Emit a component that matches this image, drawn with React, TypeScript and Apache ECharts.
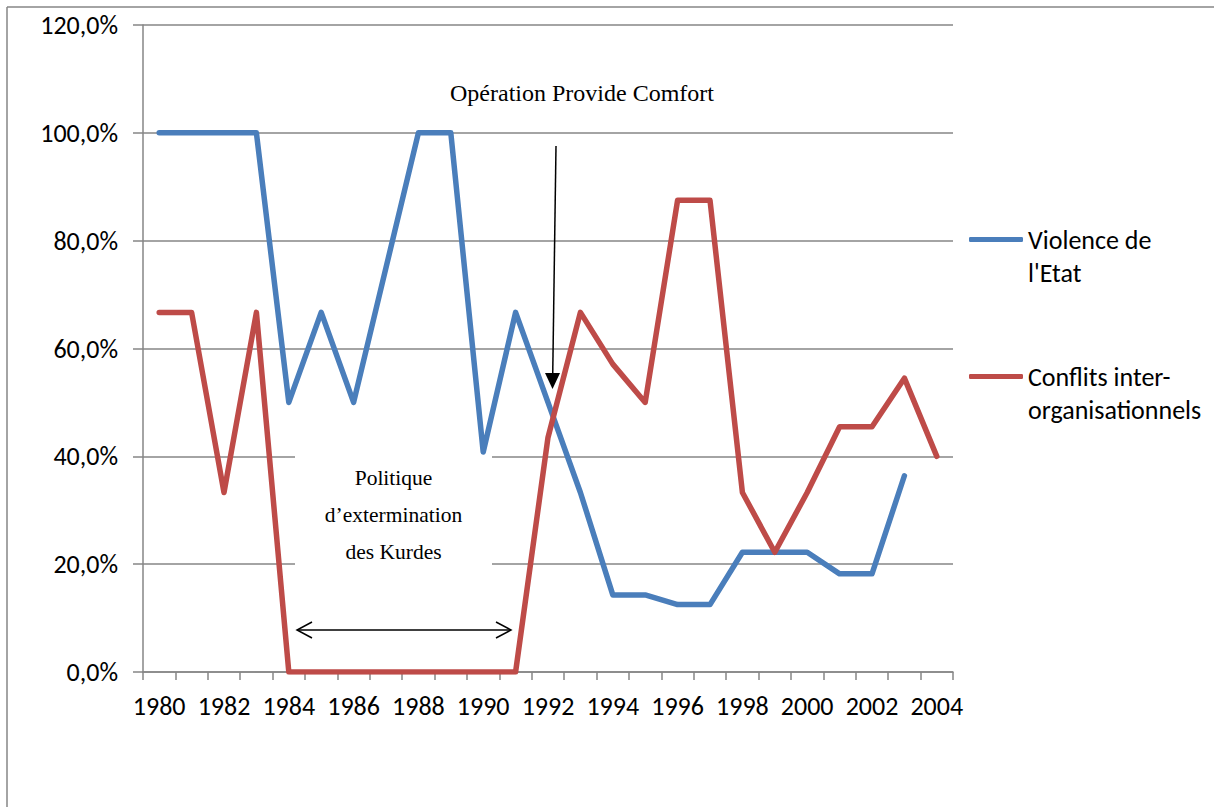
import React, { useEffect, useRef } from "react";
import * as echarts from "echarts";

const years = [
  "1980", "1981", "1982", "1983", "1984", "1985", "1986", "1987", "1988", "1989",
  "1990", "1991", "1992", "1993", "1994", "1995", "1996", "1997", "1998", "1999",
  "2000", "2001", "2002", "2003", "2004",
];
const violenceEtat = [
  100, 100, 100, 100, 50, 66.7, 50, 75, 100, 100,
  40.8, 66.7, 50, 33.3, 14.3, 14.3, 12.5, 12.5, 22.2, 22.2,
  22.2, 18.2, 18.2, 36.4, null,
];
const conflitsInter = [
  66.7, 66.7, 33.3, 66.7, 0, 0, 0, 0, 0, 0,
  0, 0, 43.5, 66.7, 57.1, 50, 87.5, 87.5, 33.3, 22.2,
  33.3, 45.5, 45.5, 54.5, 40,
];
const seriesNames = ["Violence de l'Etat", "Conflits inter-organisationnels"];
const legendLabels = ["Violence de\nl'Etat", "Conflits inter-\norganisationnels"];
const annotationTop = "Opération Provide Comfort";
const annotationBox = "Politique\nd\u2019extermination\ndes Kurdes";

const SANS = "Carlito, Lato, 'Noto Sans', sans-serif";
const SERIF = "'Liberation Serif', 'DejaVu Serif', serif";
const GRAY = "#868686";

export default function App() {
  const ref = useRef<HTMLDivElement>(null);
  useEffect(() => {
    if (!ref.current) return;
    const chart = echarts.init(ref.current, undefined, { renderer: "svg" });
    chart.setOption({
      animation: false,
      backgroundColor: "#ffffff",
      grid: { left: 143, top: 25, width: 810, height: 647, containLabel: false },
      legend: {
        orient: "vertical",
        left: 969,
        top: 190,
        padding: 0,
        itemWidth: 54,
        itemHeight: 5,
        itemGap: 38,
        icon: "roundRect",
        data: seriesNames,
        formatter: (name: string) => "\n" + legendLabels[seriesNames.indexOf(name)],
        textStyle: { fontFamily: SANS, fontSize: 26, lineHeight: 33, color: "#000" },
        selectedMode: false,
      },
      xAxis: {
        type: "category",
        data: years,
        boundaryGap: true,
        axisLine: { show: true, lineStyle: { color: GRAY, width: 1.5 } },
        axisTick: { show: true, interval: 0, length: 8, lineStyle: { color: GRAY, width: 1.5 } },
        axisLabel: { interval: 1, margin: 21, color: "#000", fontFamily: SANS, fontSize: 26 },
        splitLine: { show: false },
      },
      yAxis: {
        type: "value",
        min: 0,
        max: 120,
        interval: 20,
        axisLine: { show: true, lineStyle: { color: GRAY, width: 1.5 } },
        axisTick: { show: true, length: 10, lineStyle: { color: GRAY, width: 1.5 } },
        axisLabel: {
          margin: 25,
          color: "#000",
          fontFamily: SANS,
          fontSize: 26,
          formatter: (v: number) => v.toFixed(1).replace(".", ",") + "%",
        },
        splitLine: { show: true, lineStyle: { color: GRAY, width: 1.5 } },
      },
      series: [
        {
          name: seriesNames[0],
          type: "line",
          data: violenceEtat,
          symbol: "none",
          connectNulls: false,
          color: "#4A7EBB",
          lineStyle: { width: 5.5, color: "#4A7EBB", cap: "round", join: "round" },
          z: 3,
        },
        {
          name: seriesNames[1],
          type: "line",
          data: conflitsInter,
          symbol: "none",
          color: "#BE4B48",
          lineStyle: { width: 5.5, color: "#BE4B48", cap: "round", join: "round" },
          z: 4,
        },
      ],
      graphic: [
        { type: "line", z: 1, shape: { x1: 7, y1: 7, x2: 1214, y2: 7 }, style: { stroke: GRAY, lineWidth: 1.5 } },
        { type: "line", z: 1, shape: { x1: 7, y1: 7, x2: 7, y2: 807 }, style: { stroke: GRAY, lineWidth: 1.5 } },
        { type: "rect", z: 1, shape: { x: 295, y: 454, width: 197, height: 146 }, style: { fill: "#ffffff" } },
        {
          type: "text", z: 10, x: 393.5, y: 515,
          style: {
            text: annotationBox, font: `21.5px ${SERIF}`, fill: "#000",
            align: "center", verticalAlign: "middle", lineHeight: 37,
          },
        },
        {
          type: "text", z: 10, x: 582, y: 93,
          style: { text: annotationTop, font: `24px ${SERIF}`, fill: "#000", align: "center", verticalAlign: "middle" },
        },
        { type: "line", z: 10, shape: { x1: 556, y1: 146, x2: 552.7, y2: 376 }, style: { stroke: "#000", lineWidth: 1.5 } },
        { type: "polygon", z: 10, shape: { points: [[545, 373], [560, 373], [552.5, 389]] }, style: { fill: "#000" } },
        { type: "line", z: 10, shape: { x1: 297, y1: 630, x2: 511, y2: 630 }, style: { stroke: "#000", lineWidth: 1.5 } },
        { type: "polyline", z: 10, shape: { points: [[312, 622], [297, 630], [312, 638]] }, style: { stroke: "#000", lineWidth: 1.5, fill: null } },
        { type: "polyline", z: 10, shape: { points: [[496, 622], [511, 630], [496, 638]] }, style: { stroke: "#000", lineWidth: 1.5, fill: null } },
      ],
    });
    return () => chart.dispose();
  }, []);
  return (
    <div
      ref={ref}
      style={{ position: "fixed", left: 0, top: 0, width: 1214, height: 807, background: "#fff" }}
    />
  );
}
